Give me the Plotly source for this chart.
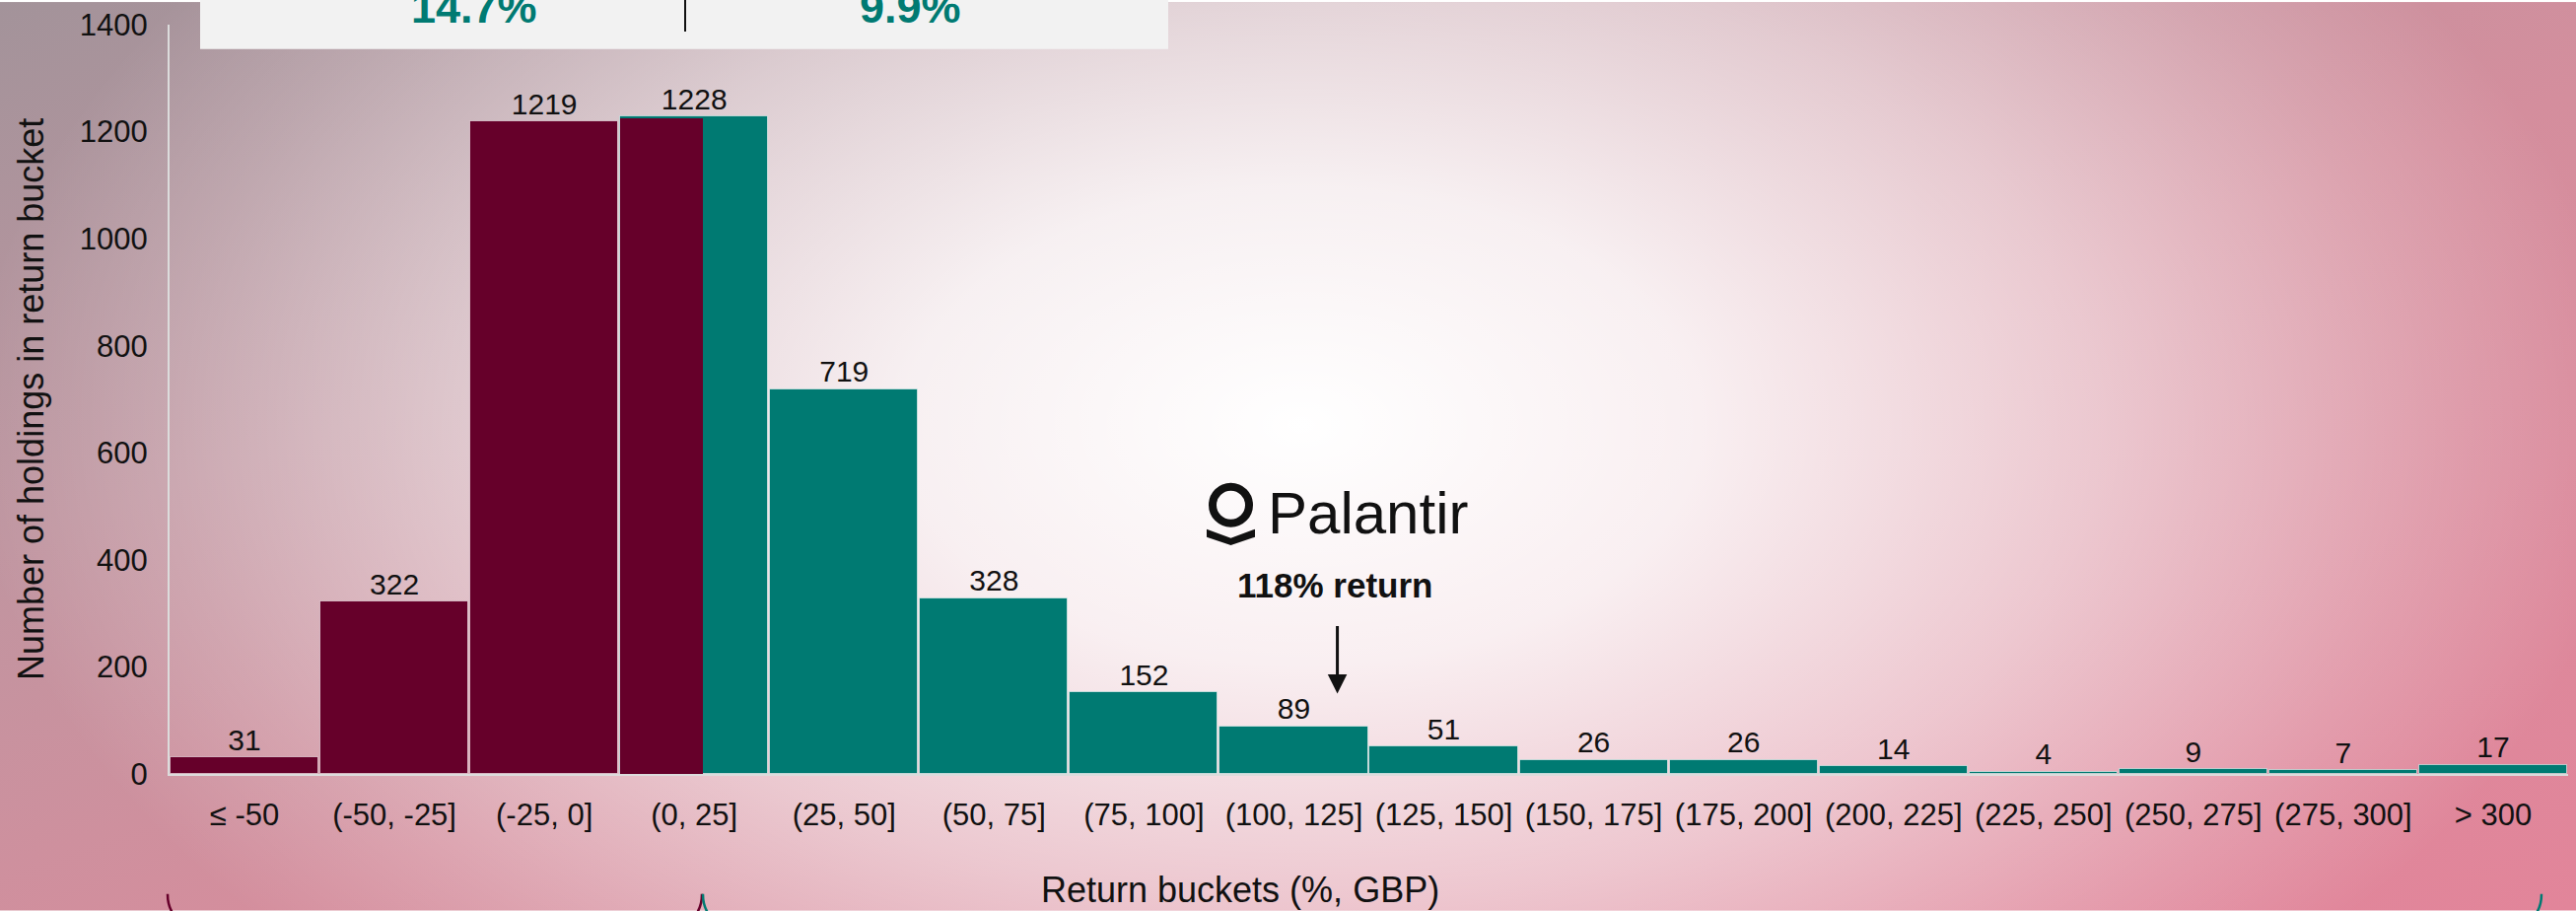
import base64
import plotly.graph_objects as go

# ---------------- data ----------------
categories = ["≤ -50", "(-50, -25]", "(-25, 0]", "(0, 25]", "(25, 50]", "(50, 75]",
              "(75, 100]", "(100, 125]", "(125, 150]", "(150, 175]", "(175, 200]",
              "(200, 225]", "(225, 250]", "(250, 275]", "(275, 300]", "> 300"]
counts = [31, 322, 1219, 1228, 719, 328, 152, 89, 51, 26, 26, 14, 4, 9, 7, 17]
loss_buckets = 3          # first three buckets drawn in maroon
split_bucket = 3          # (0, 25] bucket drawn half maroon / half teal
y_ticks = [0, 200, 400, 600, 800, 1000, 1200, 1400]
stat_left = "14.7%"
stat_right = "9.9%"
highlight_label = "118% return"
highlight_bucket_pos = 7.29  # position of Palantir (118%) on the bucket axis
highlight_count_level = 150

# ---------------- style ----------------
W, H = 2613, 924
PL, PR, PT, PB = 172, 2605, 23, 785
MAROON = "#66002a"
TEAL = "#007a72"
FONT = "Liberation Sans, Arial, sans-serif"


def px(x):
    return (x - PL) / (PR - PL)


def py(y):
    return (PB - y) / (PB - PT)


svg = f'''<svg xmlns="http://www.w3.org/2000/svg" width="{W}" height="{H}" viewBox="0 0 {W} {H}">
<defs>
<linearGradient id="b" x1="0" y1="0" x2="1" y2="1">
<stop offset="0" stop-color="#a3939a"/>
<stop offset="0.3" stop-color="#c095a0"/>
<stop offset="0.55" stop-color="#d48e9d"/>
<stop offset="1" stop-color="#e2859a"/>
</linearGradient>
<radialGradient id="w" cx="1320" cy="430" r="1350" gradientUnits="userSpaceOnUse"
 gradientTransform="translate(1320 430) scale(1 0.6) translate(-1320 -430)">
<stop offset="0" stop-color="#ffffff" stop-opacity="1"/>
<stop offset="0.3" stop-color="#ffffff" stop-opacity="0.86"/>
<stop offset="0.6" stop-color="#ffffff" stop-opacity="0.52"/>
<stop offset="0.85" stop-color="#ffffff" stop-opacity="0.18"/>
<stop offset="1" stop-color="#ffffff" stop-opacity="0"/>
</radialGradient>
</defs>
<rect width="{W}" height="{H}" fill="url(#b)"/>
<rect width="{W}" height="{H}" fill="url(#w)"/>
</svg>'''
bg_src = "data:image/svg+xml;base64," + base64.b64encode(svg.encode()).decode()

xs = list(range(len(categories)))
colors = [MAROON if i < loss_buckets else TEAL for i in xs]

fig = go.Figure()
fig.add_trace(go.Bar(
    x=xs, y=counts, marker=dict(color=colors, line=dict(color="rgba(255,255,255,0.55)", width=1)),
    width=0.987, hoverinfo="skip"))
# maroon part of the split bucket
fig.add_trace(go.Bar(
    x=[split_bucket], y=[counts[split_bucket]], base=[-3], width=[0.548], offset=[-0.493],
    marker=dict(color=MAROON, line=dict(width=0)), hoverinfo="skip"))
# value labels
fig.add_trace(go.Scatter(
    x=xs, y=counts, mode="text", text=[str(c) for c in counts], textposition="top center",
    textfont=dict(family=FONT, size=30, color="#111111"), hoverinfo="skip"))

shapes = []
annotations = []

# top stats box
shapes.append(dict(type="rect", xref="paper", yref="paper", x0=px(203), x1=px(1185),
                   y0=py(47.7), y1=py(-5), fillcolor="#f2f2f2", line=dict(width=0), layer="above"))
shapes.append(dict(type="line", xref="paper", yref="paper", x0=px(695), x1=px(695),
                   y0=py(30), y1=py(-2), line=dict(color="#111111", width=2)))
annotations.append(dict(xref="paper", yref="paper", x=px(481), y=py(33), xanchor="center",
                        yanchor="bottom", text=f"<b>{stat_left}</b>", showarrow=False,
                        font=dict(family=FONT, size=45, color=TEAL)))
annotations.append(dict(xref="paper", yref="paper", x=px(923), y=py(33), xanchor="center",
                        yanchor="bottom", text=f"<b>{stat_right}</b>", showarrow=False,
                        font=dict(family=FONT, size=45, color=TEAL)))

# Palantir logo (ring + chevron) and wordmark
shapes.append(dict(type="circle", xref="paper", yref="paper", x0=px(1230), x1=px(1267),
                   y0=py(530), y1=py(493), line=dict(color="#111111", width=8)))
chev = [(1224, 536), (1248.5, 545), (1273, 536), (1273, 544), (1248.5, 552.5), (1224, 544)]
path = "M " + " L ".join(f"{px(a):.5f},{py(b):.5f}" for a, b in chev) + " Z"
shapes.append(dict(type="path", xref="paper", yref="paper", path=path,
                   fillcolor="#111111", line=dict(width=0)))
annotations.append(dict(xref="paper", yref="paper", x=px(1387), y=py(520), xanchor="center",
                        yanchor="middle", text="Palantir", showarrow=False,
                        font=dict(family=FONT, size=60, color="#111111")))
annotations.append(dict(xref="paper", yref="paper", x=px(1354), y=py(593), xanchor="center",
                        yanchor="middle", text=f"<b>{highlight_label}</b>", showarrow=False,
                        font=dict(family=FONT, size=35, color="#111111")))
annotations.append(dict(xref="x", yref="y", x=highlight_bucket_pos, y=highlight_count_level,
                        ax=0, ay=-70, text="", showarrow=True, arrowhead=2, arrowsize=1.3,
                        arrowwidth=3, arrowcolor="#111111"))

# axis titles
annotations.append(dict(xref="paper", yref="paper", x=px(1258), y=py(903), xanchor="center",
                        yanchor="middle", text="Return buckets (%, GBP)", showarrow=False,
                        font=dict(family=FONT, size=36, color="#111111")))
annotations.append(dict(xref="paper", yref="paper", x=px(31), y=py(404), xanchor="center",
                        yanchor="middle", textangle=-90,
                        text="Number of holdings in return bucket", showarrow=False,
                        font=dict(family=FONT, size=36, color="#111111")))


# braces below the chart (only their upper ends are visible)
def brace(x0, direction, color):
    pts = [(x0, 907), (x0, 930), (x0 + 15 * direction, 945), (x0 + 60 * direction, 948)]
    p = [(px(a), py(b)) for a, b in pts]
    d = (f"M {p[0][0]:.5f},{p[0][1]:.5f} C {p[1][0]:.5f},{p[1][1]:.5f} "
         f"{p[2][0]:.5f},{p[2][1]:.5f} {p[3][0]:.5f},{p[3][1]:.5f}")
    return dict(type="path", xref="paper", yref="paper", path=d, line=dict(color=color, width=2.5))


shapes.append(brace(170, 1, MAROON))
shapes.append(brace(712, -1, MAROON))
shapes.append(brace(713, 1, TEAL))
shapes.append(brace(2578, -1, TEAL))

fig.update_layout(
    width=W, height=H,
    margin=dict(l=PL, r=W - PR, t=PT, b=H - PB, pad=0),
    paper_bgcolor="rgba(0,0,0,0)", plot_bgcolor="rgba(0,0,0,0)",
    showlegend=False, barmode="overlay", bargap=0,
    font=dict(family=FONT, color="#111111"),
    shapes=shapes, annotations=annotations,
    images=[dict(source=bg_src, xref="paper", yref="paper", x=px(0), y=py(0),
                 sizex=W / (PR - PL), sizey=H / (PB - PT), sizing="stretch",
                 xanchor="left", yanchor="top", layer="below")],
    xaxis=dict(range=[-0.5, len(categories) - 0.5], tickvals=xs, ticktext=categories,
               showgrid=False, zeroline=False, showline=True, linecolor="#dcdcdc", linewidth=2,
               ticks="", tickfont=dict(family=FONT, size=31, color="#111111"),
               ticklabelstandoff=13, fixedrange=True),
    yaxis=dict(range=[0, 1400], tickvals=y_ticks, showgrid=False, zeroline=False,
               showline=True, linecolor="#dcdcdc", linewidth=2, ticks="",
               tickfont=dict(family=FONT, size=31, color="#111111"),
               ticklabelstandoff=14, fixedrange=True),
)

fig.write_html("out.html", config={"displayModeBar": False},
               post_script="document.body.style.margin='0px';")
